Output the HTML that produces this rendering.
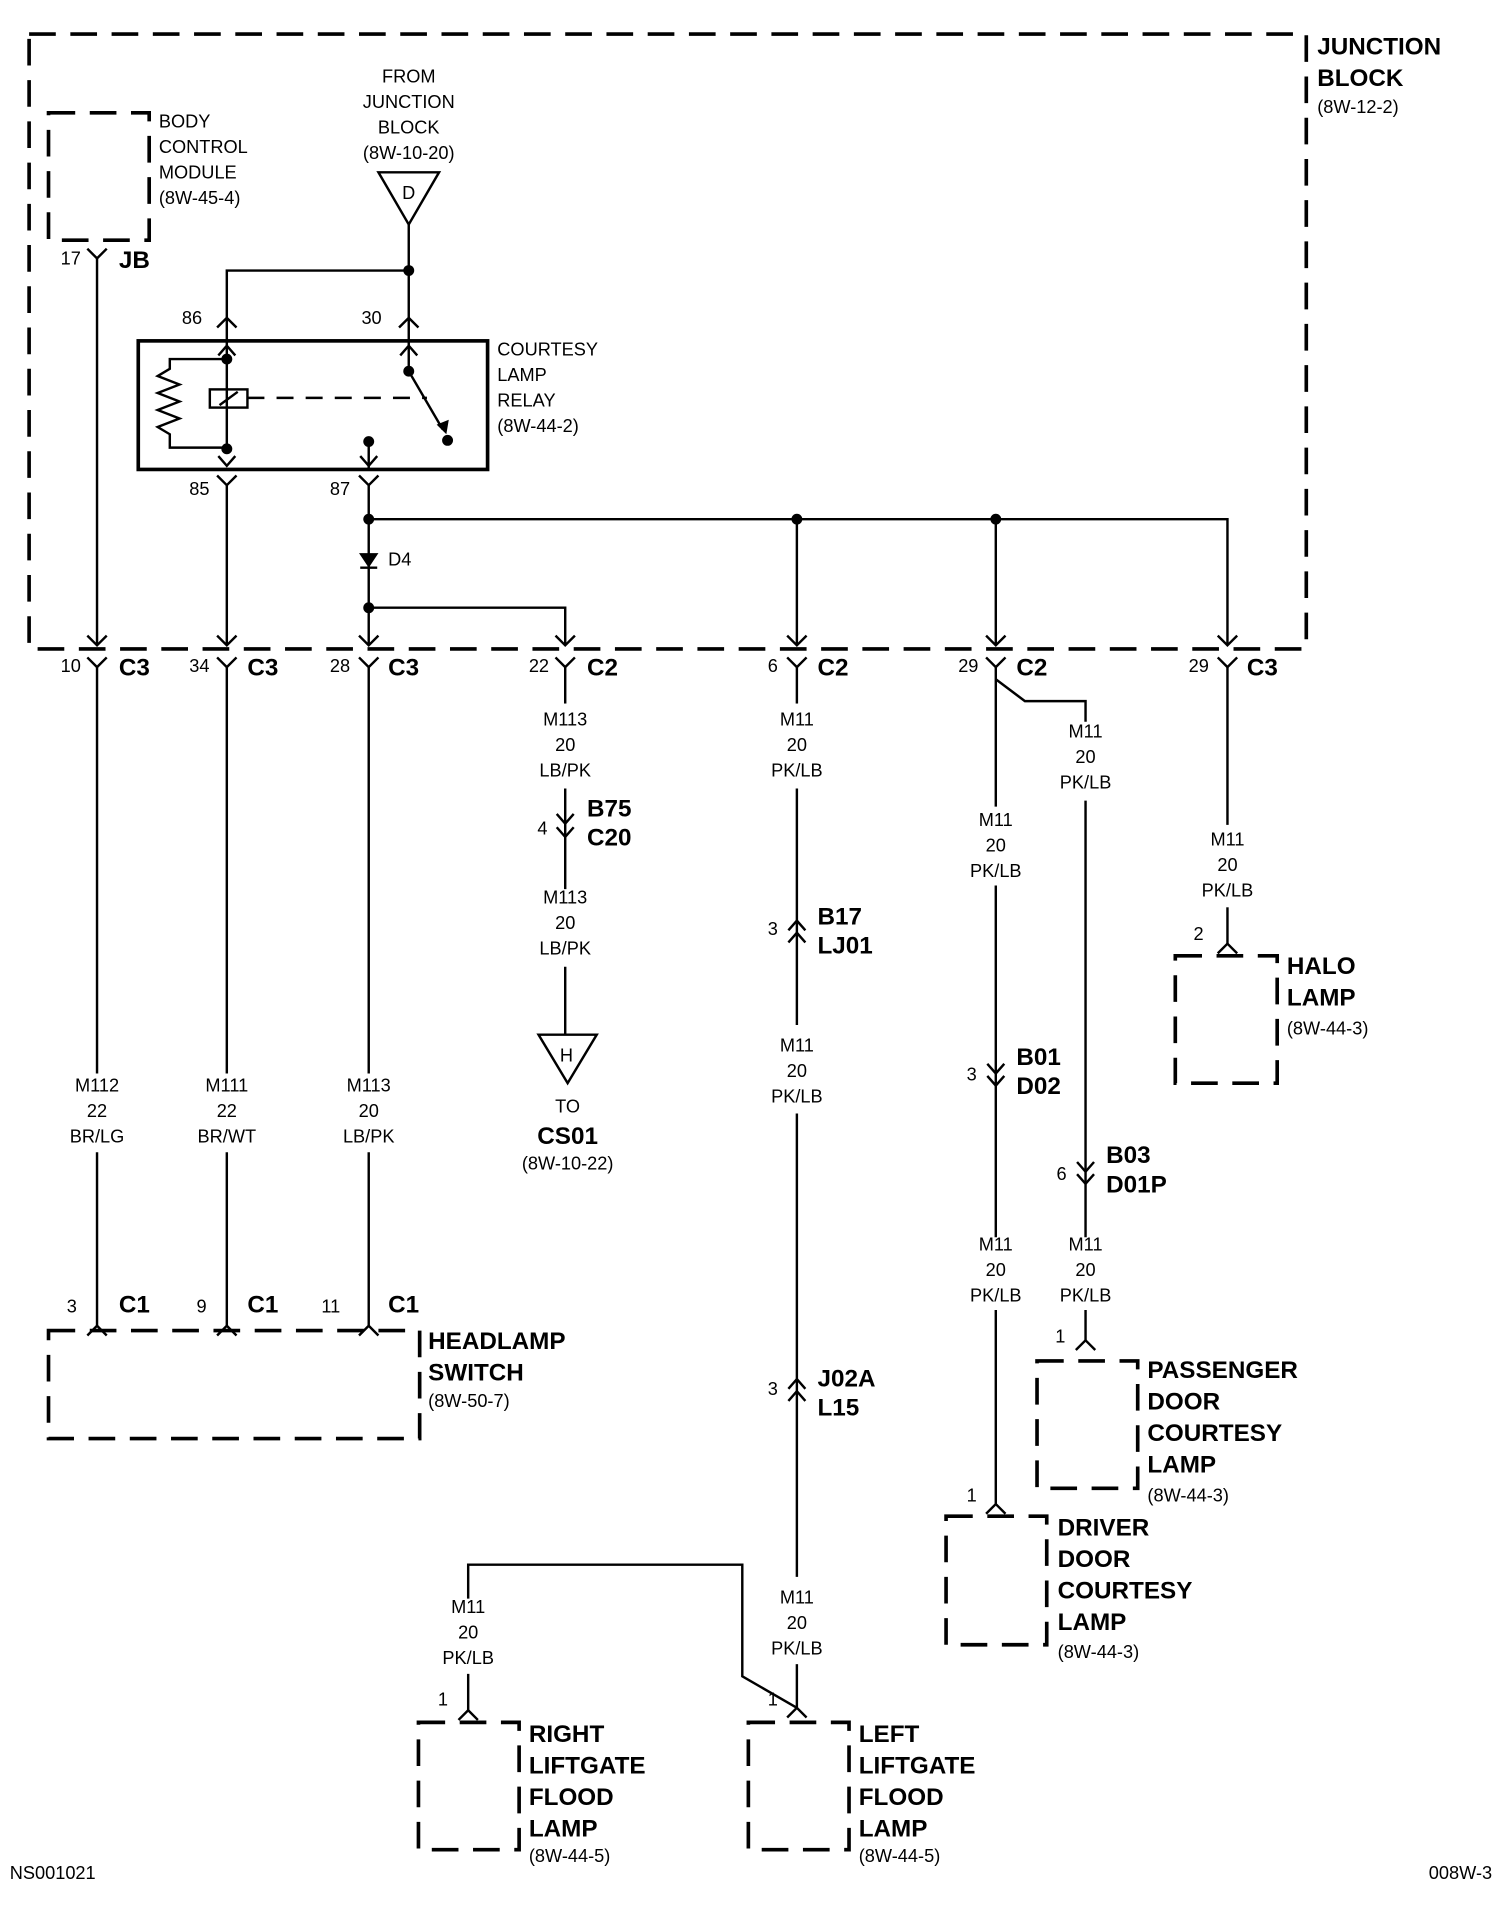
<!DOCTYPE html>
<html><head><meta charset="utf-8"><style>
html,body{margin:0;padding:0;background:#fff}
svg{display:block}
text{font-family:"Liberation Sans Narrow","Liberation Sans",sans-serif;fill:#000}
.s{font-size:15px}
.b{font-size:20px;font-weight:bold}
.m{text-anchor:middle}
</style></head><body>
<svg width="1504" height="1908" viewBox="0 0 1240 1573" xmlns="http://www.w3.org/2000/svg">
<g fill="none" stroke="#000">
<!-- dashed boxes -->
<g stroke-width="3" stroke-dasharray="22,12">
<rect x="24" y="28" width="1053" height="507"/>
<rect x="40" y="93" width="83" height="105"/>
<rect x="40" y="1097" width="306" height="89"/>
<rect x="969" y="788" width="84" height="105"/>
<rect x="855" y="1122" width="83" height="105"/>
<rect x="780" y="1250" width="83" height="106"/>
<rect x="345" y="1420" width="83" height="105"/>
<rect x="617" y="1420" width="83" height="105"/>
</g>
<!-- relay box -->
<rect x="114" y="281" width="288" height="106" stroke-width="3"/>
<g stroke-width="2">
<!-- BCM wire -->
<line x1="80" y1="213" x2="80" y2="532"/>
<polyline points="72,205 80,213 88,205"/>
<!-- from junction -->
<polygon points="312,142 362,142 337,185"/>
<line x1="337" y1="185" x2="337" y2="306"/>
<polyline points="337,223 187,223 187,372"/>
<polyline points="179,270 187,262 195,270"/>
<polyline points="329,270 337,262 345,270"/>
<polyline points="180,293 187,285 194,293"/>
<polyline points="330,293 337,285 344,293"/>
<!-- resistor -->
<polyline points="187,296 140,296 140,304 130,310 148,317 130,324 148,331 130,338 148,345 130,352 140,358 140,369 187,369"/>
<rect x="173" y="321" width="31" height="15"/>
<line x1="181" y1="334" x2="196" y2="323"/>
<line x1="204" y1="328" x2="352" y2="328" stroke-dasharray="14,10"/>
<line x1="337" y1="306" x2="365" y2="354"/>
<polyline points="180,376 187,384 194,376"/>
<line x1="304" y1="364" x2="304" y2="387"/>
<polyline points="297,376 304,384 311,376"/>
<!-- 85 / 87 -->
<polyline points="179,392 187,400 195,392"/>
<polyline points="296,392 304,400 312,392"/>
<line x1="187" y1="400" x2="187" y2="532"/>
<line x1="304" y1="400" x2="304" y2="532"/>
<polyline points="304,428 1012,428 1012,532"/>
<line x1="657" y1="428" x2="657" y2="532"/>
<line x1="821" y1="428" x2="821" y2="532"/>
<polyline points="304,501 466,501 466,532"/>
<line x1="297" y1="468" x2="311" y2="468"/>
<!-- arrowheads at boundary -->
<polyline points="72,524 80,532 88,524"/>
<polyline points="179,524 187,532 195,524"/>
<polyline points="296,524 304,532 312,524"/>
<polyline points="458,524 466,532 474,524"/>
<polyline points="649,524 657,532 665,524"/>
<polyline points="813,524 821,532 829,524"/>
<polyline points="1004,524 1012,532 1020,524"/>
<!-- Y connectors below -->
<polyline points="72,542 80,550 88,542"/>
<polyline points="179,542 187,550 195,542"/>
<polyline points="296,542 304,550 312,542"/>
<polyline points="458,542 466,550 474,542"/>
<polyline points="649,542 657,550 665,542"/>
<polyline points="813,542 821,550 829,542"/>
<polyline points="1004,542 1012,550 1020,542"/>
<!-- headlamp wires -->
<line x1="80" y1="550" x2="80" y2="885"/><line x1="80" y1="950" x2="80" y2="1093"/>
<line x1="187" y1="550" x2="187" y2="885"/><line x1="187" y1="950" x2="187" y2="1093"/>
<line x1="304" y1="550" x2="304" y2="885"/><line x1="304" y1="950" x2="304" y2="1093"/>
<polyline points="72,1101 80,1093 88,1101"/>
<polyline points="179,1101 187,1093 195,1101"/>
<polyline points="296,1101 304,1093 312,1101"/>
<!-- 466 -->
<line x1="466" y1="550" x2="466" y2="580"/>
<line x1="466" y1="650" x2="466" y2="733"/>
<polyline points="459,671 466,679 473,671"/>
<polyline points="459,682 466,690 473,682"/>
<line x1="466" y1="797" x2="466" y2="853"/>
<polygon points="444,853 492,853 468,893"/>
<!-- 657 -->
<line x1="657" y1="550" x2="657" y2="580"/>
<line x1="657" y1="650" x2="657" y2="845"/>
<polyline points="650,767 657,759 664,767"/>
<polyline points="650,777 657,769 664,777"/>
<line x1="657" y1="918" x2="657" y2="1300"/>
<polyline points="650,1145 657,1137 664,1145"/>
<polyline points="650,1155 657,1147 664,1155"/>
<line x1="657" y1="1372" x2="657" y2="1408"/>
<polyline points="649,1416 657,1408 665,1416"/>
<polyline points="657,1408 612,1382 612,1290 386,1290 386,1318"/>
<line x1="386" y1="1380" x2="386" y2="1410"/>
<polyline points="378,1418 386,1410 394,1418"/>
<!-- 821 -->
<line x1="821" y1="550" x2="821" y2="665"/>
<polyline points="821,560 845,578 895,578 895,595"/>
<line x1="821" y1="730" x2="821" y2="1020"/>
<polyline points="814,877 821,885 828,877"/>
<polyline points="814,887 821,895 828,887"/>
<line x1="821" y1="1080" x2="821" y2="1240"/>
<polyline points="813,1248 821,1240 829,1248"/>
<line x1="895" y1="660" x2="895" y2="1020"/>
<polyline points="888,958 895,966 902,958"/>
<polyline points="888,968 895,976 902,968"/>
<line x1="895" y1="1080" x2="895" y2="1105"/>
<polyline points="887,1113 895,1105 903,1113"/>
<!-- 1012 -->
<line x1="1012" y1="550" x2="1012" y2="680"/>
<line x1="1012" y1="748" x2="1012" y2="778"/>
<polyline points="1004,786 1012,778 1020,786"/>
</g>
</g>
<!-- solid shapes -->
<g fill="#000">
<circle cx="337" cy="223" r="4.5"/>
<circle cx="187" cy="296" r="4.5"/>
<circle cx="187" cy="370" r="4.5"/>
<circle cx="337" cy="306" r="4.5"/>
<circle cx="369" cy="363" r="4.5"/>
<circle cx="304" cy="364" r="4.5"/>
<circle cx="304" cy="428" r="4.5"/>
<circle cx="657" cy="428" r="4.5"/>
<circle cx="821" cy="428" r="4.5"/>
<circle cx="304" cy="501" r="4.5"/>
<polygon points="296,456 312,456 304,468"/>
<polygon points="360,350 368,358 370,346"/>
</g>
<!-- text -->
<text class="b" x="1086" y="45">JUNCTION</text>
<text class="b" x="1086" y="71">BLOCK</text>
<text class="s" x="1086" y="93">(8W-12-2)</text>
<text class="s" x="131" y="105">BODY</text>
<text class="s" x="131" y="126">CONTROL</text>
<text class="s" x="131" y="147">MODULE</text>
<text class="s" x="131" y="168">(8W-45-4)</text>
<text class="s" x="50" y="218">17</text>
<text class="b" x="98" y="221">JB</text>
<text class="s m" x="337" y="68">FROM</text>
<text class="s m" x="337" y="89">JUNCTION</text>
<text class="s m" x="337" y="110">BLOCK</text>
<text class="s m" x="337" y="131">(8W-10-20)</text>
<text class="s m" x="337" y="164">D</text>
<text class="s" x="150" y="267">86</text>
<text class="s" x="298" y="267">30</text>
<text class="s" x="410" y="293">COURTESY</text>
<text class="s" x="410" y="314">LAMP</text>
<text class="s" x="410" y="335">RELAY</text>
<text class="s" x="410" y="356">(8W-44-2)</text>
<text class="s" x="156" y="408">85</text>
<text class="s" x="272" y="408">87</text>
<text class="s" x="320" y="466">D4</text>
<text class="s" x="50" y="554">10</text><text class="b" x="98" y="557">C3</text>
<text class="s" x="156" y="554">34</text><text class="b" x="204" y="557">C3</text>
<text class="s" x="272" y="554">28</text><text class="b" x="320" y="557">C3</text>
<text class="s" x="436" y="554">22</text><text class="b" x="484" y="557">C2</text>
<text class="s" x="633" y="554">6</text><text class="b" x="674" y="557">C2</text>
<text class="s" x="790" y="554">29</text><text class="b" x="838" y="557">C2</text>
<text class="s" x="980" y="554">29</text><text class="b" x="1028" y="557">C3</text>
<text class="s m" x="80" y="900">M112</text><text class="s m" x="80" y="921">22</text><text class="s m" x="80" y="942">BR/LG</text>
<text class="s m" x="187" y="900">M111</text><text class="s m" x="187" y="921">22</text><text class="s m" x="187" y="942">BR/WT</text>
<text class="s m" x="304" y="900">M113</text><text class="s m" x="304" y="921">20</text><text class="s m" x="304" y="942">LB/PK</text>
<text class="s" x="55" y="1082">3</text><text class="b" x="98" y="1082">C1</text>
<text class="s" x="162" y="1082">9</text><text class="b" x="204" y="1082">C1</text>
<text class="s" x="265" y="1082">11</text><text class="b" x="320" y="1082">C1</text>
<text class="b" x="353" y="1112">HEADLAMP</text>
<text class="b" x="353" y="1138">SWITCH</text>
<text class="s" x="353" y="1160">(8W-50-7)</text>
<text class="s m" x="466" y="598">M113</text><text class="s m" x="466" y="619">20</text><text class="s m" x="466" y="640">LB/PK</text>
<text class="s" x="443" y="688">4</text>
<text class="b" x="484" y="673">B75</text><text class="b" x="484" y="697">C20</text>
<text class="s m" x="466" y="745">M113</text><text class="s m" x="466" y="766">20</text><text class="s m" x="466" y="787">LB/PK</text>
<text class="s m" x="467" y="875">H</text>
<text class="s m" x="468" y="917">TO</text>
<text class="b m" x="468" y="943">CS01</text>
<text class="s m" x="468" y="964">(8W-10-22)</text>
<text class="s m" x="657" y="598">M11</text><text class="s m" x="657" y="619">20</text><text class="s m" x="657" y="640">PK/LB</text>
<text class="s" x="633" y="771">3</text>
<text class="b" x="674" y="762">B17</text><text class="b" x="674" y="786">LJ01</text>
<text class="s m" x="657" y="867">M11</text><text class="s m" x="657" y="888">20</text><text class="s m" x="657" y="909">PK/LB</text>
<text class="s" x="633" y="1150">3</text>
<text class="b" x="674" y="1143">J02A</text><text class="b" x="674" y="1167">L15</text>
<text class="s m" x="657" y="1322">M11</text><text class="s m" x="657" y="1343">20</text><text class="s m" x="657" y="1364">PK/LB</text>
<text class="s m" x="386" y="1330">M11</text><text class="s m" x="386" y="1351">20</text><text class="s m" x="386" y="1372">PK/LB</text>
<text class="s" x="361" y="1406">1</text>
<text class="s" x="633" y="1406">1</text>
<text class="b" x="436" y="1436">RIGHT</text><text class="b" x="436" y="1462">LIFTGATE</text><text class="b" x="436" y="1488">FLOOD</text><text class="b" x="436" y="1514">LAMP</text>
<text class="s" x="436" y="1535">(8W-44-5)</text>
<text class="b" x="708" y="1436">LEFT</text><text class="b" x="708" y="1462">LIFTGATE</text><text class="b" x="708" y="1488">FLOOD</text><text class="b" x="708" y="1514">LAMP</text>
<text class="s" x="708" y="1535">(8W-44-5)</text>
<text class="s m" x="895" y="608">M11</text><text class="s m" x="895" y="629">20</text><text class="s m" x="895" y="650">PK/LB</text>
<text class="s m" x="821" y="681">M11</text><text class="s m" x="821" y="702">20</text><text class="s m" x="821" y="723">PK/LB</text>
<text class="s" x="797" y="891">3</text>
<text class="b" x="838" y="878">B01</text><text class="b" x="838" y="902">D02</text>
<text class="s" x="871" y="973">6</text>
<text class="b" x="912" y="959">B03</text><text class="b" x="912" y="983">D01P</text>
<text class="s m" x="821" y="1031">M11</text><text class="s m" x="821" y="1052">20</text><text class="s m" x="821" y="1073">PK/LB</text>
<text class="s m" x="895" y="1031">M11</text><text class="s m" x="895" y="1052">20</text><text class="s m" x="895" y="1073">PK/LB</text>
<text class="s" x="870" y="1107">1</text>
<text class="b" x="946" y="1136">PASSENGER</text><text class="b" x="946" y="1162">DOOR</text><text class="b" x="946" y="1188">COURTESY</text><text class="b" x="946" y="1214">LAMP</text>
<text class="s" x="946" y="1238">(8W-44-3)</text>
<text class="s" x="797" y="1238">1</text>
<text class="b" x="872" y="1266">DRIVER</text><text class="b" x="872" y="1292">DOOR</text><text class="b" x="872" y="1318">COURTESY</text><text class="b" x="872" y="1344">LAMP</text>
<text class="s" x="872" y="1367">(8W-44-3)</text>
<text class="s m" x="1012" y="697">M11</text><text class="s m" x="1012" y="718">20</text><text class="s m" x="1012" y="739">PK/LB</text>
<text class="s" x="984" y="775">2</text>
<text class="b" x="1061" y="803">HALO</text><text class="b" x="1061" y="829">LAMP</text>
<text class="s" x="1061" y="853">(8W-44-3)</text>
<text class="s" x="8" y="1549">NS001021</text>
<text class="s" x="1178" y="1549">008W-3</text>
</svg>
</body></html>
